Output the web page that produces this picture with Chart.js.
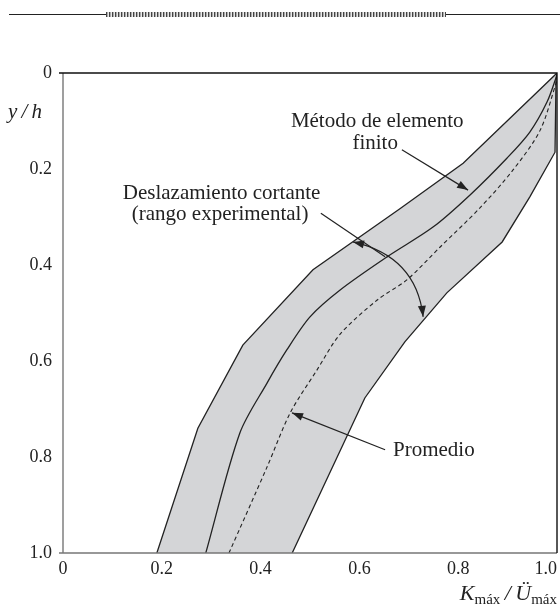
<!DOCTYPE html>
<html><head><meta charset="utf-8">
<script src="https://cdn.jsdelivr.net/npm/chart.js@4.4.1/dist/chart.umd.min.js"></script>
<style>
html,body{margin:0;padding:0;background:#fff;}
#wrap{position:relative;width:560px;height:607px;overflow:hidden;}
#c{position:absolute;left:0;top:0;}
.rule{position:absolute;left:9px;top:14px;width:551px;height:0;border-top:1.3px solid #222;}
.hatch{position:absolute;left:106px;top:12px;width:340px;height:5px;background:repeating-linear-gradient(90deg,#444 0 1px,#aaa 1px 2px,#e8e8e8 2px 3px);}
.ylab{position:absolute;left:8px;top:99px;font:italic 21px 'Liberation Serif',serif;color:#222;white-space:nowrap;}
.xlab{position:absolute;right:3px;top:580px;font:italic 22px 'Liberation Serif',serif;color:#222;white-space:nowrap;}
.xlab sub{font-style:normal;font-size:15px;vertical-align:-4px;}
</style>
</head><body>
<div id="wrap">
<canvas id="c" width="560" height="607"></canvas>
<div class="rule"></div><div class="hatch"></div>
<div class="ylab">y&thinsp;/&thinsp;h</div>
<div class="xlab">K<sub>máx</sub>&thinsp;/&thinsp;Ü<sub>máx</sub></div>
</div>
<script>
// tick labels (by tick value 0, 0.2, ... 1.0)
const xTickLabels = ['0','0.2','0.4','0.6','0.8','1.0'];
const yTickLabels = ['0','0.2','0.4','0.6','0.8','1.0'];

// upper/left boundary of experimental range (bottom -> top)
const upperX = [0.190, 0.273, 0.364, 0.506, 0.682, 0.810, 1.000];
const upperY = [1.000, 0.740, 0.567, 0.410, 0.283, 0.188, 0.000];

// lower/right boundary of experimental range (bottom -> top)
const lowerX = [0.464, 0.611, 0.692, 0.777, 0.889, 0.945, 0.996, 0.998, 1.000];
const lowerY = [1.000, 0.677, 0.560, 0.458, 0.352, 0.258, 0.165, 0.015, 0.000];

// finite element method
const femX = [0.289, 0.358, 0.413, 0.453, 0.500, 0.561, 0.656, 0.749, 0.824, 0.899, 0.945, 0.980, 1.000];
const femY = [1.000, 0.750, 0.646, 0.577, 0.508, 0.452, 0.383, 0.321, 0.254, 0.177, 0.123, 0.060, 0.004];

// average
const avgX = [0.336, 0.413, 0.460, 0.514, 0.561, 0.636, 0.696, 0.763, 0.844, 0.911, 0.966, 1.000];
const avgY = [1.000, 0.821, 0.708, 0.619, 0.544, 0.473, 0.431, 0.363, 0.281, 0.202, 0.119, 0.015];

// annotation texts (data coordinates)
const noteText = ['Método de elemento', 'finito', 'Deslazamiento cortante', '(rango experimental)', 'Promedio'];
const noteX = [0.636, 0.632, 0.321, 0.318, 0.668];
const noteY = [0.102, 0.146, 0.252, 0.294, 0.787];
const noteAlign = ['center', 'center', 'center', 'center', 'left'];

// arrows (data coordinates): from -> tip
const arrowFromX = [0.686, 0.652];
const arrowFromY = [0.160, 0.785];
const arrowTipX = [0.820, 0.4636];
const arrowTipY = [0.244, 0.708];
// pointer for experimental range
const pointerX = [0.522, 0.652];
const pointerY = [0.292, 0.383];
// double-headed arc: start, control, end
const arcX = [0.587, 0.715, 0.729];
const arcY = [0.352, 0.382, 0.508];

const pts = (xs, ys) => xs.map((v, i) => ({x: v, y: ys[i]}));
const bandPts = pts(upperX, upperY).concat(pts(lowerX, lowerY).reverse());

const FONT = "'Liberation Serif', 'Times New Roman', serif";

function head(ctx, tx, ty, fx, fy, len, half) {
  const a = Math.atan2(ty - fy, tx - fx);
  ctx.beginPath();
  ctx.moveTo(tx, ty);
  ctx.lineTo(tx - len * Math.cos(a) + half * Math.sin(a), ty - len * Math.sin(a) - half * Math.cos(a));
  ctx.lineTo(tx - len * Math.cos(a) - half * Math.sin(a), ty - len * Math.sin(a) + half * Math.cos(a));
  ctx.closePath();
  ctx.fill();
}

const overlay = {
  id: 'overlay',
  afterDatasetsDraw(chart) {
    const {ctx, chartArea: a, scales: {x, y}} = chart;
    ctx.save();
    // frame
    ctx.lineWidth = 1.4;
    ctx.strokeStyle = '#777';
    ctx.beginPath();
    ctx.moveTo(a.left, a.top); ctx.lineTo(a.left, a.bottom);
    ctx.moveTo(a.left - 4, a.bottom); ctx.lineTo(a.right, a.bottom);
    ctx.stroke();
    ctx.strokeStyle = '#111';
    ctx.beginPath();
    ctx.moveTo(a.left - 4, a.top); ctx.lineTo(a.right, a.top); ctx.lineTo(a.right, a.bottom);
    ctx.stroke();

    // texts
    ctx.fillStyle = '#222';
    ctx.font = '21px ' + FONT;
    ctx.textBaseline = 'middle';
    noteText.forEach((t, i) => {
      ctx.textAlign = noteAlign[i];
      ctx.fillText(t, x.getPixelForValue(noteX[i]), y.getPixelForValue(noteY[i]));
    });

    // arrows
    ctx.strokeStyle = '#222';
    ctx.lineWidth = 1.2;
    arrowFromX.forEach((_, i) => {
      const fx = x.getPixelForValue(arrowFromX[i]), fy = y.getPixelForValue(arrowFromY[i]);
      const tx = x.getPixelForValue(arrowTipX[i]), ty = y.getPixelForValue(arrowTipY[i]);
      ctx.beginPath(); ctx.moveTo(fx, fy); ctx.lineTo(tx, ty); ctx.stroke();
      head(ctx, tx, ty, fx, fy, 11, 4);
    });
    // pointer
    ctx.beginPath();
    ctx.moveTo(x.getPixelForValue(pointerX[0]), y.getPixelForValue(pointerY[0]));
    ctx.lineTo(x.getPixelForValue(pointerX[1]), y.getPixelForValue(pointerY[1]));
    ctx.stroke();
    // arc
    const ax = arcX.map(v => x.getPixelForValue(v)), ay = arcY.map(v => y.getPixelForValue(v));
    ctx.beginPath();
    ctx.moveTo(ax[0], ay[0]);
    ctx.quadraticCurveTo(ax[1], ay[1], ax[2], ay[2]);
    ctx.stroke();
    head(ctx, ax[0], ay[0], ax[1], ay[1], 11, 4);
    head(ctx, ax[2], ay[2], ax[1], ay[1], 11, 4);
    ctx.restore();
  }
};

const labelFor = (arr, v) => arr[Math.round(v / 0.2)];

new Chart(document.getElementById('c'), {
  type: 'line',
  data: {
    datasets: [
      {data: bandPts, fill: 'shape', backgroundColor: '#d4d5d7', borderWidth: 0, pointRadius: 0, tension: 0, order: 10},
      {data: pts(upperX, upperY), borderColor: '#222', borderWidth: 1.3, pointRadius: 0, tension: 0, fill: false},
      {data: pts(lowerX, lowerY), borderColor: '#222', borderWidth: 1.3, pointRadius: 0, tension: 0, fill: false},
      {data: pts(femX, femY), borderColor: '#222', borderWidth: 1.3, pointRadius: 0, tension: 0.3, fill: false},
      {data: pts(avgX, avgY), borderColor: '#222', borderWidth: 1.1, borderDash: [4, 3], pointRadius: 0, tension: 0.3, fill: false}
    ]
  },
  options: {
    responsive: false,
    animation: false,
    events: [],
    layout: {padding: {top: 73, right: 3, left: 0, bottom: 0}},
    plugins: {legend: {display: false}, tooltip: {enabled: false}, filler: {drawTime: 'beforeDatasetsDraw'}},
    scales: {
      x: {
        type: 'linear', min: 0, max: 1, position: 'bottom',
        grid: {display: false, drawTicks: false},
        border: {display: false},
        ticks: {
          stepSize: 0.2, autoSkip: false, maxRotation: 0, padding: 5,
          color: '#222', font: {family: FONT, size: 18},
          callback: v => {
            const s = labelFor(xTickLabels, v);
            return v > 0.99 ? s + '\u00a0\u00a0\u00a0\u00a0\u00a0' : s;
          }
        },
        afterFit(s) { s.height = 54; s.paddingLeft = 0; s.paddingRight = 0; }
      },
      y: {
        type: 'linear', min: 0, max: 1, reverse: true,
        grid: {display: false, drawTicks: false},
        border: {display: false},
        ticks: {
          stepSize: 0.2, autoSkip: false, padding: 11,
          color: '#222', font: {family: FONT, size: 18},
          callback: v => labelFor(yTickLabels, v)
        },
        afterFit(s) { s.width = 63; s.paddingTop = 0; s.paddingBottom = 0; }
      }
    }
  },
  plugins: [overlay]
});
</script>
</body></html>
